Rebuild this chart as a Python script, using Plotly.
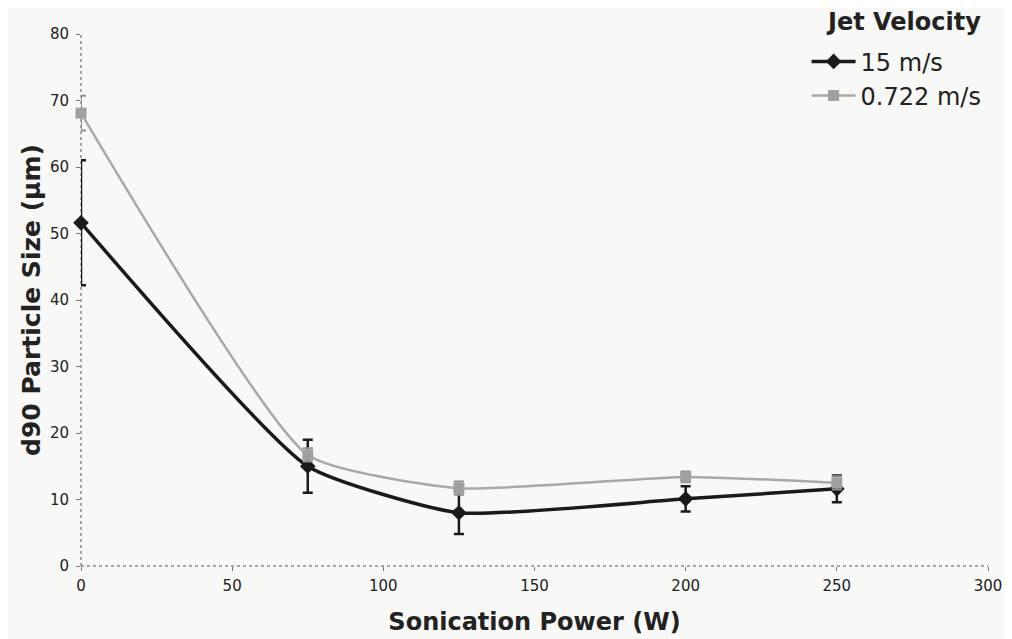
import plotly.graph_objects as go

# Sonication power (W)
power = [0, 75, 125, 200, 250]

# d90 particle size (um) per jet velocity
d90_fast = [51.6, 15.0, 8.0, 10.1, 11.6]
err_fast = [9.4, 4.0, 3.2, 1.9, 2.0]

d90_slow = [68.1, 16.7, 11.7, 13.4, 12.5]
err_slow = [2.6, 1.0, 1.0, 0.8, 1.0]

x_ticks = [0, 50, 100, 150, 200, 250, 300]
y_ticks = [0, 10, 20, 30, 40, 50, 60, 70, 80]

fig = go.Figure()

fig.add_trace(go.Scatter(
    x=power, y=d90_fast, name="15 m/s",
    mode="lines+markers",
    line=dict(color="#1a1a1a", width=3.5, shape="spline", smoothing=0.5),
    marker=dict(symbol="diamond", size=12, color="#1a1a1a"),
    error_y=dict(type="data", array=err_fast, color="#1a1a1a", thickness=2.5, width=5),
    cliponaxis=False,
))

fig.add_trace(go.Scatter(
    x=power, y=d90_slow, name="0.722 m/s",
    mode="lines+markers",
    line=dict(color="#a8a8a8", width=2.5, shape="spline", smoothing=0.5),
    marker=dict(symbol="square", size=11, color="#a0a0a0"),
    error_y=dict(type="data", array=err_slow, color="#909090", thickness=2, width=5),
    cliponaxis=False,
))

# dotted axis lines like the original
fig.add_shape(type="line", xref="paper", yref="paper", x0=0, x1=1, y0=0, y1=0,
              line=dict(color="#555555", width=1, dash="dot"), layer="below")
fig.add_shape(type="line", xref="paper", yref="paper", x0=0, x1=0, y0=0, y1=1,
              line=dict(color="#555555", width=1, dash="dot"), layer="below")

# legend heading as its own text so the gap to the items can be set
fig.add_annotation(
    text="<b>Jet Velocity</b>", xref="paper", yref="paper",
    x=0.995, y=1.023, xanchor="right", yanchor="middle",
    showarrow=False, font=dict(size=24, color="#222222"),
)

# page body has an 8px margin, so margins are offset to land on the same spot
fig.update_layout(
    width=1012, height=639,
    paper_bgcolor="#f8f8f6",
    plot_bgcolor="#f8f8f6",
    font=dict(family="DejaVu Sans", color="#222222"),
    margin=dict(l=73, r=32, t=26, b=81, autoexpand=False),
    showlegend=True,
    legend=dict(
        font=dict(size=24),
        x=0.80, xanchor="left", y=0.99, yanchor="top",
        bgcolor="rgba(0,0,0,0)",
        itemwidth=44,
    ),
    xaxis=dict(
        range=[0, 300], tickvals=x_ticks,
        showgrid=False, zeroline=False, showline=False, automargin=False,
        ticks="outside", ticklen=4, tickcolor="#777777",
        tickfont=dict(size=15), ticklabelstandoff=2,
        title=dict(text="<b>Sonication Power (W)</b>", font=dict(size=24), standoff=19),
    ),
    yaxis=dict(
        range=[0, 80], tickvals=y_ticks,
        showgrid=False, zeroline=False, showline=False, automargin=False,
        ticks="outside", ticklen=4, tickcolor="#777777",
        tickfont=dict(size=15), ticklabelstandoff=4,
        title=dict(text="<b>d90 Particle Size (µm)</b>", font=dict(size=25), standoff=2),
    ),
)

fig.write_html("out.html")
